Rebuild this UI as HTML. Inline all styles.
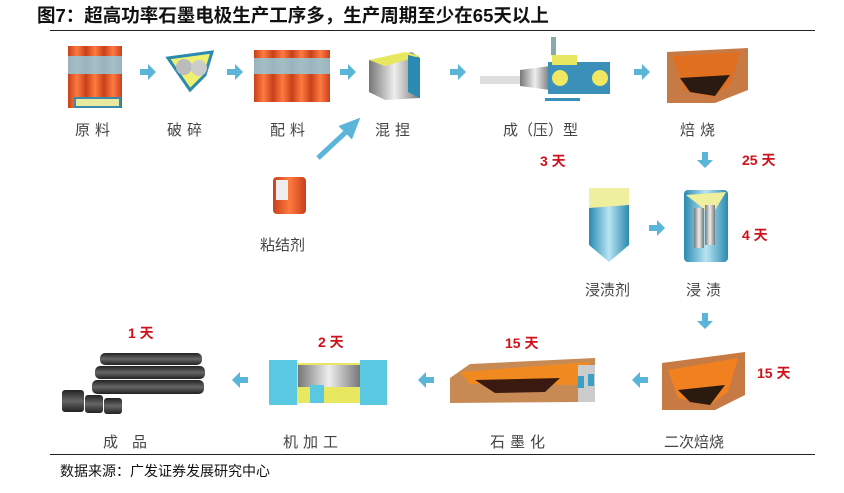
<!DOCTYPE html>
<html><head><meta charset="utf-8"><style>
body{margin:0;background:#fff;}
#c{position:relative;width:844px;height:493px;overflow:hidden;font-family:"Liberation Sans","Noto Sans CJK SC",sans-serif;}
.t{position:absolute;white-space:nowrap;}
.lb{font-size:15px;color:#444;letter-spacing:5px;}
.d{font-size:14px;color:#d0101a;font-weight:bold;}
</style></head><body><div id="c">
<div class="t" style="left:37px;top:2px;font-size:18.5px;font-weight:bold;color:#111;">图7：超高功率石墨电极生产工序多，生产周期至少在65天以上</div>
<div style="position:absolute;left:50px;top:30px;width:765px;height:1px;background:#222"></div>
<div style="position:absolute;left:50px;top:454px;width:765px;height:1px;background:#222"></div>
<div class="t" style="left:60px;top:461px;font-size:14px;color:#111;">数据来源：广发证券发展研究中心</div>

<svg width="844" height="493" style="position:absolute;left:0;top:0">
<defs>
<linearGradient id="og" x1="0" x2="1"><stop offset="0" stop-color="#c8401a"/><stop offset=".5" stop-color="#ff7a40"/><stop offset="1" stop-color="#c8401a"/></linearGradient>
<linearGradient id="bg" x1="0" x2="1"><stop offset="0" stop-color="#2a8ab0"/><stop offset=".5" stop-color="#b8e4f2"/><stop offset="1" stop-color="#2a8ab0"/></linearGradient>
<linearGradient id="gg" x1="0" x2="1"><stop offset="0" stop-color="#777"/><stop offset=".5" stop-color="#eee"/><stop offset="1" stop-color="#777"/></linearGradient>
<linearGradient id="kg" x1="0" y1="0" x2="0" y2="1"><stop offset="0" stop-color="#222"/><stop offset=".5" stop-color="#666"/><stop offset="1" stop-color="#222"/></linearGradient>
<g id="ar"><path d="M0,-3 h8 v-5 l8,8 l-8,8 v-5 h-8z" fill="#5bb5d8"/></g>
</defs>
<!-- arrows row1 -->
<use href="#ar" x="140" y="72"/><use href="#ar" x="227" y="72"/><use href="#ar" x="340" y="72"/><use href="#ar" x="450" y="72"/><use href="#ar" x="634" y="72"/>
<use href="#ar" x="649" y="228"/>
<use href="#ar" transform="translate(705,152) rotate(90)"/>
<use href="#ar" transform="translate(705,313) rotate(90)"/>
<use href="#ar" transform="translate(648,380) rotate(180)"/>
<use href="#ar" transform="translate(434,380) rotate(180)"/>
<use href="#ar" transform="translate(248,380) rotate(180)"/>
<path d="M318,158 L347,131 L343,127 L356,122 L351,135 L347,131" stroke="#5bb5d8" stroke-width="5" fill="#5bb5d8"/>
<!-- 原料 -->
<g><rect x="68" y="46" width="18" height="62" fill="url(#og)"/><rect x="86" y="46" width="18" height="62" fill="url(#og)"/><rect x="104" y="46" width="18" height="62" fill="url(#og)"/>
<rect x="68" y="56" width="54" height="18" fill="#8fd0e6" opacity=".8"/><rect x="75" y="98" width="45" height="9" fill="#e8e8a0" stroke="#3a8aa8" stroke-width="2"/></g>
<!-- 破碎 -->
<path d="M168,58 L212,52 L205,75 L190,90 Z" fill="#f0f070" stroke="#2a8ab0" stroke-width="3"/>
<circle cx="184" cy="67" r="8" fill="#bbb"/><circle cx="199" cy="68" r="8" fill="#ccc"/>
<!-- 配料 -->
<g><rect x="254" y="50" width="19" height="52" fill="url(#og)"/><rect x="273" y="50" width="19" height="52" fill="url(#og)"/><rect x="292" y="50" width="19" height="52" fill="url(#og)"/><rect x="311" y="50" width="19" height="52" fill="url(#og)"/>
<rect x="254" y="58" width="76" height="16" fill="#8fd0e6" opacity=".8"/></g>
<!-- 混捏 -->
<path d="M369,60 L412,52 L420,58 L420,98 L385,100 L369,92 Z" fill="url(#gg)"/>
<path d="M369,60 L405,52 L420,56 L385,66 Z" fill="#e8e860"/>
<path d="M408,55 L420,58 L420,98 L408,92 Z" fill="#2a8ab0"/>
<!-- 成型 -->
<rect x="480" y="76" width="40" height="8" fill="#ddd"/>
<path d="M520,70 L550,66 L550,90 L520,86 Z" fill="url(#gg)"/>
<rect x="548" y="62" width="62" height="32" fill="#3a90b8"/>
<rect x="552" y="55" width="25" height="10" fill="#e8e860"/>
<rect x="551" y="37" width="5" height="18" fill="#8aa"/>
<circle cx="560" cy="78" r="8" fill="#f0e860"/><circle cx="600" cy="78" r="8" fill="#f0e860"/>
<rect x="545" y="98" width="35" height="3" fill="#3a90b8"/>
<!-- 焙烧 -->
<path d="M667,52 L748,48 L748,90 L715,103 L667,103 Z" fill="#c87a45"/>
<path d="M672,56 L740,52 L730,85 L712,97 L685,90 Z" fill="#e07020"/>
<path d="M680,78 L730,75 L715,96 L690,92 Z" fill="#2a1a10"/>
<!-- 粘结剂 -->
<rect x="273" y="177" width="33" height="37" rx="4" fill="url(#og)"/><rect x="276" y="180" width="12" height="20" fill="#eee"/>
<!-- 浸渍剂 -->
<rect x="589" y="188" width="40" height="20" fill="#eef0a0"/>
<path d="M589,208 L629,205 L629,245 L609,262 L589,245 Z" fill="url(#bg)"/>
<!-- 浸渍 -->
<rect x="684" y="190" width="44" height="72" rx="4" fill="url(#bg)"/>
<path d="M686,195 L726,192 L712,215 Z" fill="#eef0a0"/>
<rect x="694" y="208" width="10" height="40" fill="url(#gg)"/><rect x="705" y="205" width="10" height="40" fill="url(#gg)"/>
<!-- 二次焙烧 -->
<path d="M662,363 L745,352 L745,395 L715,410 L662,410 Z" fill="#c87a45"/>
<path d="M668,370 L738,358 L728,392 L710,405 L678,398 Z" fill="#f08020"/>
<path d="M678,390 L725,385 L710,405 L690,402 Z" fill="#2a1a10"/>
<!-- 石墨化 -->
<path d="M450,378 L470,364 L595,358 L595,388 L580,402 L450,403 Z" fill="#c88a55"/>
<path d="M460,372 L590,362 L580,385 L470,384 Z" fill="#f08a20"/>
<path d="M475,380 L560,378 L545,392 L495,393 Z" fill="#3a1a10"/>
<rect x="578" y="365" width="17" height="37" fill="#ccc"/>
<rect x="578" y="376" width="6" height="12" fill="#3aa0c8"/><rect x="588" y="374" width="6" height="12" fill="#3aa0c8"/>
<!-- 机加工 -->
<rect x="269" y="363" width="118" height="40" fill="#e8e860"/>
<rect x="269" y="360" width="28" height="45" fill="#5ac8e0"/>
<rect x="360" y="360" width="27" height="45" fill="#5ac8e0"/>
<rect x="298" y="365" width="62" height="22" fill="url(#gg)"/>
<rect x="310" y="385" width="14" height="18" fill="#5ac8e0"/>
<!-- 成品 -->
<g fill="url(#kg)">
<rect x="100" y="353" width="102" height="12" rx="5"/><rect x="95" y="366" width="110" height="13" rx="5"/><rect x="92" y="380" width="112" height="14" rx="5"/>
<rect x="62" y="390" width="22" height="22" rx="3"/><rect x="85" y="395" width="18" height="18" rx="3"/><rect x="104" y="398" width="18" height="16" rx="3"/></g>
</svg>

<div class="t lb" style="left:75px;top:119px">原料</div>
<div class="t lb" style="left:167px;top:119px">破碎</div>
<div class="t lb" style="left:270px;top:119px">配料</div>
<div class="t lb" style="left:375px;top:119px">混捏</div>
<div class="t lb" style="left:503px;top:119px;letter-spacing:0">成（压）型</div>
<div class="t lb" style="left:680px;top:119px">焙烧</div>
<div class="t lb" style="left:260px;top:234px;letter-spacing:0">粘结剂</div>
<div class="t lb" style="left:585px;top:279px;letter-spacing:0">浸渍剂</div>
<div class="t lb" style="left:686px;top:279px">浸渍</div>
<div class="t lb" style="left:664px;top:431px;letter-spacing:0">二次焙烧</div>
<div class="t lb" style="left:490px;top:431px">石墨化</div>
<div class="t lb" style="left:283px;top:431px">机加工</div>
<div class="t lb" style="left:103px;top:431px;letter-spacing:14px">成品</div>

<div class="t d" style="left:540px;top:151px">3 天</div>
<div class="t d" style="left:742px;top:150px">25 天</div>
<div class="t d" style="left:742px;top:225px">4 天</div>
<div class="t d" style="left:757px;top:363px">15 天</div>
<div class="t d" style="left:505px;top:333px">15 天</div>
<div class="t d" style="left:318px;top:332px">2 天</div>
<div class="t d" style="left:128px;top:323px">1 天</div>
</div></body></html>
